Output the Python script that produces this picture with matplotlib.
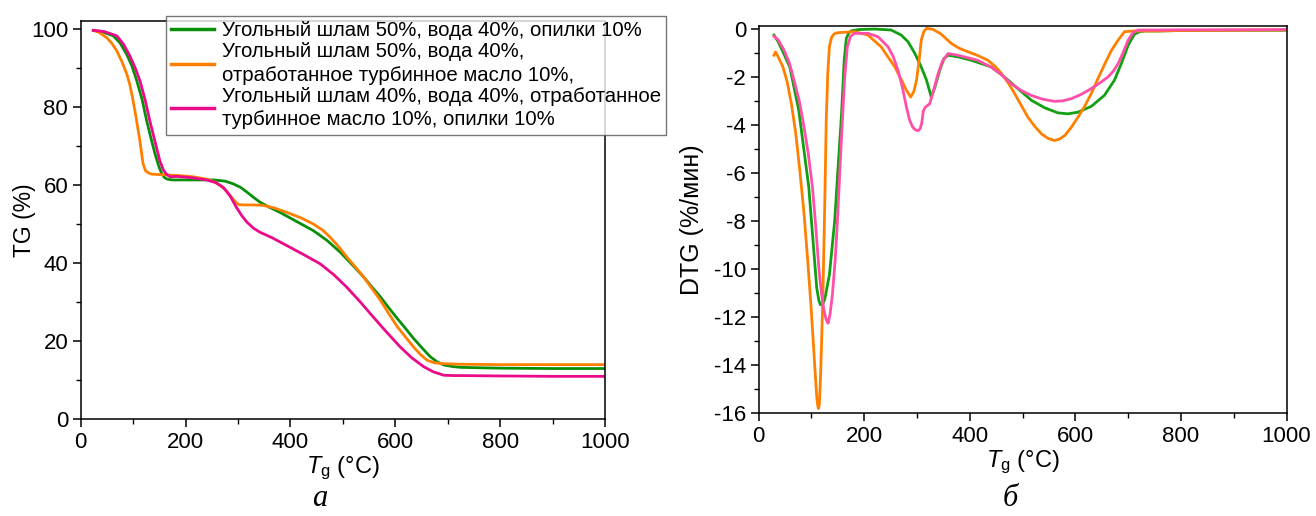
import matplotlib
matplotlib.use("Agg")
import matplotlib.pyplot as plt
from matplotlib.ticker import MultipleLocator

plt.rcParams['font.family'] = ['Liberation Sans', 'DejaVu Sans']
plt.rcParams['axes.unicode_minus'] = False
plt.rcParams['mathtext.fontset'] = 'custom'
plt.rcParams['mathtext.rm'] = 'Liberation Sans'
plt.rcParams['mathtext.it'] = 'Liberation Sans:italic'

labels = [
    "Угольный шлам 50%, вода 40%, опилки 10%",
    "Угольный шлам 50%, вода 40%,\nотработанное турбинное масло 10%,",
    "Угольный шлам 40%, вода 40%, отработанное\nтурбинное масло 10%, опилки 10%",
]

# ---- TG data ----
tg_green_T = [24, 40, 62, 75, 88, 98, 107, 117, 126, 134, 142, 149, 155, 160, 165, 175, 190, 220, 253, 275,
              291, 305, 317, 330, 342, 360, 380, 410, 444, 470, 495, 520, 540, 556, 572, 588, 604, 620, 635,
              651, 667, 680, 693, 710, 725, 760, 800, 900, 1000]
tg_green_G = [99.6, 99.3, 98.2, 96.4, 93.4, 90.4, 86.7, 82.0, 76.4, 72.0, 67.9, 64.8, 62.8, 61.9, 61.5, 61.3,
              61.3, 61.3, 61.3, 61.0, 60.3, 59.4, 58.2, 56.8, 55.6, 54.3, 53.0, 50.8, 48.3, 45.8, 42.8, 39.3,
              36.4, 33.8, 31.3, 28.5, 25.8, 23.2, 20.7, 18.3, 16.0, 14.7, 13.9, 13.5, 13.3, 13.2, 13.1, 13.0, 13.0]

tg_orange_T = [24, 35, 50, 60, 69, 78, 88, 94, 100, 106, 113, 119, 124, 129, 135, 145, 160, 190, 215, 240,
               255, 266, 276, 285, 293, 301, 310, 330, 348, 370, 393, 420, 444, 462, 476, 492, 508, 524, 540,
               556, 572, 588, 604, 620, 635, 648, 661, 674, 686, 700, 724, 800, 900, 1000]
tg_orange_G = [99.6, 99.1, 97.7, 96.2, 94.3, 91.8, 88.4, 85.6, 81.6, 77.0, 71.3, 65.4, 63.6, 63.1, 62.8,
               62.7, 62.6, 62.4, 62.1, 61.5, 60.8, 59.9, 58.8, 57.3, 56.0, 55.0, 54.9, 54.9, 54.8, 54.1,
               53.0, 51.6, 50.0, 48.4, 46.6, 44.2, 41.5, 39.0, 36.4, 33.4, 30.4, 27.0, 23.7, 21.0, 18.5,
               16.6, 15.1, 14.5, 14.3, 14.2, 14.1, 14.0, 14.0, 14.0]

tg_pink_T = [24, 45, 69, 82, 94, 104, 113, 123, 132, 142, 151, 158, 164, 171, 183, 210, 240, 258, 272, 285,
             297, 307, 317, 330, 342, 365, 393, 425, 457, 483, 507, 533, 558, 583, 609, 631, 654, 672, 692,
             710, 724, 800, 900, 1000]
tg_pink_G = [99.6, 99.3, 98.2, 96.0, 93.0, 90.0, 86.7, 81.8, 76.4, 71.0, 66.2, 63.8, 62.7, 62.1, 62.2, 61.9,
             61.3, 60.6, 59.4, 57.2, 54.3, 52.2, 50.5, 48.9, 47.9, 46.5, 44.5, 42.2, 39.8, 37.0, 33.9, 30.1,
             26.2, 22.4, 18.6, 15.8, 13.5, 12.2, 11.3, 11.2, 11.2, 11.1, 11.0, 11.0]

# ---- DTG data ----
dtg_green_T = [29, 37, 46, 59, 76, 95, 105, 110, 114, 117, 121, 125, 134, 144, 150, 157, 162, 166, 171, 176,
               190, 220, 251, 270, 283, 296, 308, 318, 327, 333, 343, 351, 359, 378, 403, 441, 466, 491, 517,
               542, 567, 586, 605, 630, 655, 674, 687, 700, 712, 722, 731, 756, 800, 900, 1000]
dtg_green_D = [-0.25, -0.53, -0.95, -1.58, -3.39, -6.6, -9.39, -10.78, -11.3, -11.48, -11.45, -11.27, -10.23,
               -7.99, -5.9, -3.53, -1.3, -0.39, -0.15, -0.07, -0.02, 0.0, -0.04, -0.25, -0.53, -1.02, -1.58,
               -2.13, -2.83, -2.48, -1.72, -1.23, -1.09, -1.16, -1.3, -1.58, -2.0, -2.48, -2.97, -3.28, -3.49,
               -3.53, -3.46, -3.22, -2.76, -2.13, -1.44, -0.67, -0.21, -0.11, -0.08, -0.08, -0.06, -0.05,
               -0.05]

dtg_orange_T = [29, 32, 38, 46, 54, 62, 70, 78, 86, 93, 99, 103, 107, 110, 112, 113.5, 115, 117, 119, 122,
                125, 128, 131, 134, 138, 143, 150, 182, 207, 232, 258, 270, 280, 288, 294, 299, 304, 308, 313,
                318, 330, 345, 365, 380, 397, 415, 434, 448, 460, 473, 485, 498, 510, 523, 536, 548, 560, 570,
                580, 592, 605, 618, 630, 643, 656, 668, 681, 693, 710, 756, 800, 900, 1000]
dtg_orange_D = [-1.09, -0.95, -1.2, -1.58, -2.2, -3.11, -4.3, -5.9, -7.7, -9.67, -11.5, -12.87, -14.3,
                -15.3, -15.7, -15.8, -15.6, -14.6, -13.2, -10.78, -7.5, -3.81, -1.8, -0.74, -0.35, -0.2,
                -0.15, -0.11, -0.25, -0.74, -1.58, -2.1, -2.55, -2.83, -2.6, -2.13, -1.3, -0.46, -0.1, 0.03,
                -0.01, -0.2, -0.6, -0.8, -0.95, -1.1, -1.3, -1.55, -1.85, -2.25, -2.69, -3.2, -3.67, -4.05,
                -4.37, -4.55, -4.64, -4.58, -4.43, -4.1, -3.67, -3.2, -2.69, -2.05, -1.44, -0.9, -0.46, -0.11,
                -0.08, -0.08, -0.06, -0.05, -0.04]

dtg_pink_T = [29, 37, 48, 58, 67, 77, 86, 94, 102, 108, 114.5, 119, 124, 128, 131.5, 135, 139.7, 145, 149.2,
              154, 158.6, 163, 168, 174, 182, 207, 226, 245, 255, 264, 272, 280, 286, 292, 297, 302, 306, 309,
              312, 316, 324, 332, 340, 348, 358.6, 375, 390, 415, 440, 460, 478, 497, 516, 538, 560, 576, 592,
              611, 630, 646, 662, 672, 681, 690, 700, 709, 719, 756, 800, 900, 1000]
dtg_pink_D = [-0.3, -0.45, -0.88, -1.4, -2.13, -3.0, -4.09, -5.2, -6.6, -8.2, -10.09, -11.0, -11.76, -12.1,
              -12.25, -11.9, -11.06, -9.6, -8.0, -5.8, -3.81, -2.0, -0.74, -0.3, -0.18, -0.18, -0.32, -0.74,
              -1.15, -1.72, -2.4, -3.25, -3.8, -4.09, -4.2, -4.23, -4.15, -3.9, -3.4, -3.25, -3.11, -2.5,
              -1.85, -1.35, -1.02, -1.08, -1.16, -1.3, -1.58, -1.9, -2.27, -2.55, -2.76, -2.92, -3.01, -2.99,
              -2.9, -2.72, -2.48, -2.25, -1.99, -1.75, -1.44, -1.0, -0.46, -0.15, -0.04, -0.04, -0.03, -0.03,
              -0.02]

c_green = '#0a8f0a'
c_green2 = '#12a012'
c_orange = '#ff8000'
c_pink = '#ea0a8a'
c_pink2 = '#ff4fa8'

fig = plt.figure(figsize=(13.16, 5.16), dpi=100)
ax1 = fig.add_axes([0.0613, 0.1874, 0.3984, 0.7719])
ax2 = fig.add_axes([0.5765, 0.1990, 0.4011, 0.7512])

lw = 2.0
l1, = ax1.plot(tg_green_T, tg_green_G, color=c_green, lw=lw)
l2, = ax1.plot(tg_orange_T, tg_orange_G, color=c_orange, lw=lw)
l3, = ax1.plot(tg_pink_T, tg_pink_G, color=c_pink, lw=lw)

ax2.plot(dtg_green_T, dtg_green_D, color=c_green2, lw=lw)
ax2.plot(dtg_orange_T, dtg_orange_D, color=c_orange, lw=lw)
ax2.plot(dtg_pink_T, dtg_pink_D, color=c_pink2, lw=lw)

ax1.set_xlim(0, 1000)
ax1.set_ylim(0, 102)
ax2.set_xlim(0, 1000)
ax2.set_ylim(-16, 0.14)

ax1.xaxis.set_major_locator(MultipleLocator(200))
ax1.xaxis.set_minor_locator(MultipleLocator(100))
ax1.yaxis.set_major_locator(MultipleLocator(20))
ax1.yaxis.set_minor_locator(MultipleLocator(10))
ax2.xaxis.set_major_locator(MultipleLocator(200))
ax2.xaxis.set_minor_locator(MultipleLocator(100))
ax2.yaxis.set_major_locator(MultipleLocator(2))
ax2.yaxis.set_minor_locator(MultipleLocator(1))

for ax in (ax1, ax2):
    ax.tick_params(which='major', direction='out', length=6, width=1.1, labelsize=16, pad=3)
    ax.tick_params(which='minor', direction='out', length=3.5, width=1.0)
    for s in ax.spines.values():
        s.set_linewidth(1.1)
    ax.set_xlabel(r'$T_\mathrm{g}$ (°C)', fontsize=17, labelpad=1)

ax1.set_ylabel('TG (%)', fontsize=16.5, labelpad=-4)
ax2.set_ylabel('DTG (%/мин)', fontsize=18, labelpad=7)

fig.text(0.2432, 0.02, 'а', fontsize=22, family='Liberation Serif', style='italic', ha='center', va='baseline')
fig.text(0.7675, 0.02, 'б', fontsize=22, family='Liberation Serif', style='italic', ha='center', va='baseline')

leg = fig.legend([l1, l2, l3], labels, loc='upper left', bbox_to_anchor=(166/1316, 1 - 15.7/516),
                 bbox_transform=fig.transFigure, fontsize=14.7, frameon=True, fancybox=False,
                 handlelength=2.1, handletextpad=0.4, borderpad=0.25, labelspacing=0.1,
                 borderaxespad=0)
for t in leg.get_texts():
    t.set_linespacing(1.32)
leg.get_frame().set_edgecolor('#555555')
leg.get_frame().set_linewidth(1.0)
for h in leg.get_lines():
    h.set_linewidth(2.5)

fig.savefig('out.png', dpi=100)
